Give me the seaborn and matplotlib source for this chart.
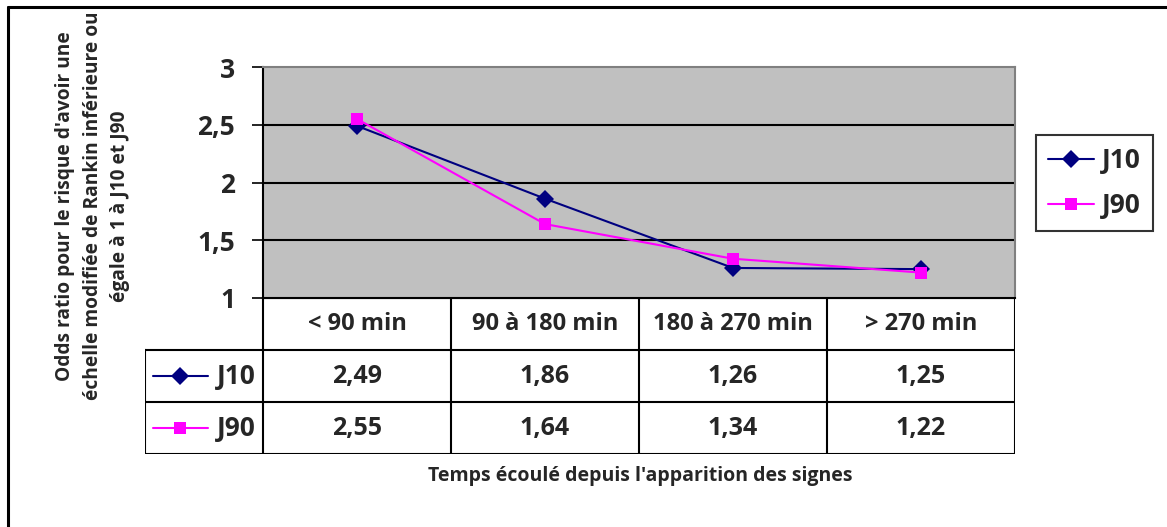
import pandas as pd
import matplotlib.pyplot as plt
import seaborn as sns
from matplotlib.lines import Line2D
from matplotlib.transforms import Bbox

# Data
categories = ['< 90 min', '90 à 180 min', '180 à 270 min', '> 270 min']
j10 = [2.49, 1.86, 1.26, 1.25]
j90 = [2.55, 1.64, 1.34, 1.22]
series_names = ['J10', 'J90']
yticks = [1, 1.5, 2, 2.5, 3]
ytick_labels = ['1', '1,5', '2', '2,5', '3']

colors = {'J10': '#000080', 'J90': '#FF00FF'}
markers = {'J10': 'D', 'J90': 's'}

df = pd.DataFrame({
    'Temps': categories * 2,
    'OR': j10 + j90,
    'Jour': ['J10'] * 4 + ['J90'] * 4,
})

sns.set_style('white')
plt.rcParams['font.family'] = ['Open Sans', 'DejaVu Sans']
plt.rcParams['font.weight'] = 'bold'

W, H = 1167, 527
fig = plt.figure(figsize=(W / 100, H / 100), dpi=100)


def px_axes(x0, y0, x1, y1):
    # axes placed by pixel box (top-left origin)
    return fig.add_axes([x0 / W, (H - y1) / H, (x1 - x0) / W, (y1 - y0) / H])


# Main plot area
ax = px_axes(263, 67, 1015, 298)
ax.set_facecolor('#C0C0C0')
sns.lineplot(data=df, x='Temps', y='OR', hue='Jour', style='Jour',
             palette=colors, markers=markers, dashes=False, sort=False,
             markersize=9, linewidth=1.5, markeredgewidth=0, ax=ax, legend=False)
ax.set_xlim(-0.5, 3.5)
ax.set_ylim(1, 3)
ax.set_yticks(yticks)
ax.set_yticklabels(ytick_labels, fontsize=19, fontweight='bold')
ax.set_xticks([])
ax.set_xlabel('')
ax.set_ylabel('')
for y in yticks[1:-1]:
    ax.axhline(y, color='black', lw=1.5, zorder=1)
ax.tick_params(axis='y', direction='out', length=8, width=1.2, color='black', pad=12, left=True)
for s in ['top', 'right']:
    ax.spines[s].set_color('#808080')
    ax.spines[s].set_linewidth(1.5)
for s in ['left', 'bottom']:
    ax.spines[s].set_color('black')
    ax.spines[s].set_linewidth(1.5)

# Legend
handles = [Line2D([], [], color=colors[n], marker=markers[n], markersize=9,
                  markeredgewidth=0, lw=1.5) for n in series_names]
leg = fig.legend(handles, series_names, loc='upper left',
                 bbox_to_anchor=(1036 / W, (H - 135) / H), borderaxespad=0,
                 frameon=True, fancybox=False, handlelength=1.75, handletextpad=0.3,
                 borderpad=0.45, labelspacing=0.68,
                 prop={'size': 19, 'weight': 'bold'})
leg.get_frame().set_edgecolor('black')
leg.get_frame().set_linewidth(1.5)

# Data table under the plot
left_edge = -0.5 - 118 / 188
axt = px_axes(145, 298, 1015, 454)
axt.set_xlim(left_edge, 3.5)
axt.set_ylim(3, 0)
axt.axis('off')
lc = dict(color='black', lw=1.5, solid_capstyle='projecting')
axt.plot([-0.5, 3.5], [0, 0], **lc)
for r in [1, 2, 3]:
    axt.plot([left_edge, 3.5], [r, r], **lc)
for c in range(5):
    axt.plot([c - 0.5, c - 0.5], [0, 3], **lc)
axt.plot([left_edge, left_edge], [1, 3], **lc)

for i, cat in enumerate(categories):
    axt.text(i, 0.5, cat, ha='center', va='center', fontsize=17, fontweight='bold')
for r, (name, vals) in enumerate(zip(series_names, [j10, j90]), start=1):
    for i, v in enumerate(vals):
        axt.text(i, r + 0.5, f'{v:.2f}'.replace('.', ','), ha='center', va='center',
                 fontsize=18, fontweight='bold')
    axt.plot([-1.085, -0.793], [r + 0.5, r + 0.5], color=colors[name], lw=1.5)
    axt.plot([-0.94], [r + 0.5], color=colors[name], marker=markers[name],
             markersize=9, markeredgewidth=0)
    axt.text(-0.54, r + 0.5, name, ha='right', va='center', fontsize=19, fontweight='bold')

# Axis titles
fig.text(640 / W, (H - 476) / H, "Temps écoulé depuis l'apparition des signes",
         ha='center', va='center', fontsize=14, fontweight='bold')
yl = fig.text(93 / W, (H - 206) / H,
              "Odds ratio pour le risque d'avoir une\n"
              "échelle modifiée de Rankin inférieure ou\n"
              "égale à 1 à J10 et J90",
              ha='center', va='center', rotation=90, fontsize=13.8,
              fontweight='bold', linespacing=1.5, multialignment='center')
yl.set_clip_box(Bbox.from_extents(0, 0, W, H - 14))
yl.set_clip_on(True)

# Outer frame (top and left edges visible)
fig.add_artist(Line2D([8 / W, 1], [(H - 7) / H] * 2, color='black', lw=2.2))
fig.add_artist(Line2D([8 / W] * 2, [0, (H - 7) / H], color='black', lw=2.2))

fig.savefig('out.png', dpi=100)
